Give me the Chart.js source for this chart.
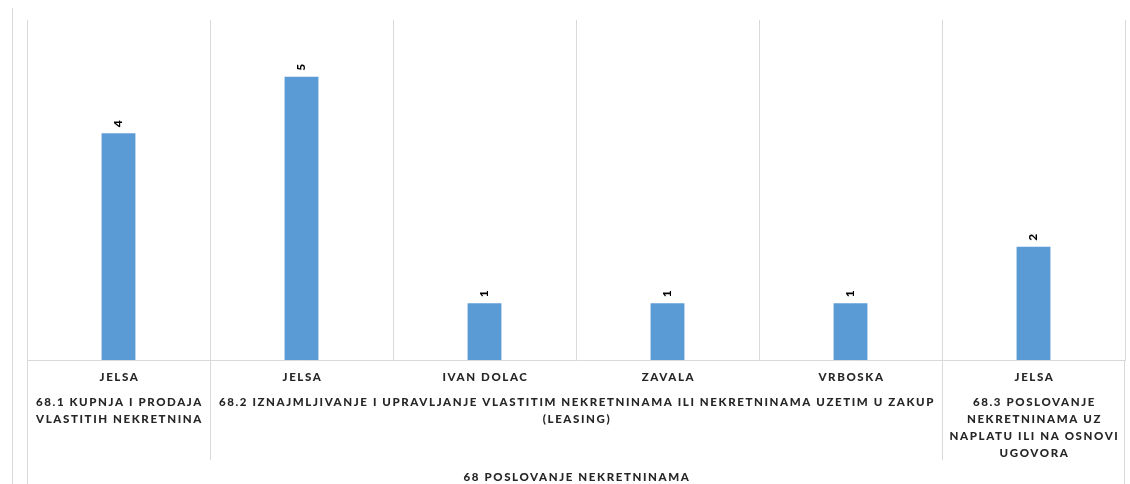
<!DOCTYPE html>
<html>
<head>
<meta charset="utf-8">
<script src="https://cdn.jsdelivr.net/npm/chart.js@4"></script>
<style>
  html, body { margin: 0; padding: 0; background: #fff; }
  #wrap { width: 1130px; height: 484px; position: relative; }
</style>
</head>
<body>
<div id="wrap"><canvas id="myChart"></canvas></div>
<script>
const categories = ['JELSA', 'JELSA', 'IVAN DOLAC', 'ZAVALA', 'VRBOSKA', 'JELSA'];
const values = [4, 5, 1, 1, 1, 2];
// second level of the axis: how many categories each group covers
const groupSpans = [1, 4, 1];
const groupLabels = [
  ['68.1 KUPNJA I PRODAJA', 'VLASTITIH NEKRETNINA'],
  ['68.2 IZNAJMLJIVANJE I UPRAVLJANJE VLASTITIM NEKRETNINAMA ILI NEKRETNINAMA UZETIM U ZAKUP', '(LEASING)'],
  ['68.3 POSLOVANJE', 'NEKRETNINAMA UZ', 'NAPLATU ILI NA OSNOVI', 'UGOVORA']
];
const topLabel = '68 POSLOVANJE NEKRETNINAMA';

const gridColor = '#d9d9d9';
const textColor = '#262626';
const labelFont = '900 11.5px Lato';

function spacedText(ctx, txt, x, y) {
  ctx.letterSpacing = '1.6px';
  // letter spacing adds a trailing gap, shift half of it back
  ctx.fillText(txt, x + 1, y);
}

const multiAxis = {
  id: 'multiAxis',
  afterDraw(chart) {
    const ctx = chart.ctx;
    const xs = chart.scales.x;
    const area = chart.chartArea;
    const step = xs.getPixelForValue(1) - xs.getPixelForValue(0);
    const h = chart.height;

    ctx.save();
    // outer frame line on the far left
    ctx.strokeStyle = gridColor;
    ctx.lineWidth = 1;
    ctx.beginPath();
    ctx.moveTo(12.5, 8);
    ctx.lineTo(12.5, h);
    ctx.stroke();

    // edges go all the way down
    ctx.beginPath();
    ctx.moveTo(Math.round(area.left) + 0.5, area.bottom);
    ctx.lineTo(Math.round(area.left) + 0.5, h);
    ctx.moveTo(Math.round(area.right) - 0.5, area.bottom);
    ctx.lineTo(Math.round(area.right) - 0.5, h);
    ctx.stroke();

    ctx.fillStyle = textColor;
    ctx.font = labelFont;
    ctx.textAlign = 'center';
    ctx.textBaseline = 'middle';

    categories.forEach((c, i) => {
      spacedText(ctx, c, xs.getPixelForValue(i), area.bottom + 17);
    });

    let start = 0;
    groupSpans.forEach((span, g) => {
      const x0 = xs.getPixelForValue(start) - step / 2;
      const x1 = xs.getPixelForValue(start + span - 1) + step / 2;
      groupLabels[g].forEach((line, k) => {
        spacedText(ctx, line, (x0 + x1) / 2, area.bottom + 42 + k * 17);
      });
      if (g < groupSpans.length - 1) {
        ctx.beginPath();
        ctx.moveTo(Math.round(x1) + 0.5, area.bottom);
        ctx.lineTo(Math.round(x1) + 0.5, area.bottom + 100);
        ctx.stroke();
      }
      start += span;
    });

    spacedText(ctx, topLabel, (area.left + area.right) / 2, area.bottom + 117);
    ctx.restore();
  }
};

const barLabels = {
  id: 'barLabels',
  afterDatasetsDraw(chart) {
    const ctx = chart.ctx;
    const meta = chart.getDatasetMeta(0);
    ctx.save();
    ctx.fillStyle = '#000';
    ctx.font = '900 12px Lato';
    ctx.textAlign = 'left';
    ctx.textBaseline = 'middle';
    meta.data.forEach((bar, i) => {
      ctx.save();
      ctx.translate(bar.x, bar.y - 6);
      ctx.rotate(-Math.PI / 2);
      ctx.fillText(String(values[i]), 0, 0);
      ctx.restore();
    });
    ctx.restore();
  }
};

const ctx = document.querySelector('#myChart').getContext('2d');

const myChart = new Chart(ctx, {
  type: 'bar',
  data: {
    labels: categories,
    datasets: [{
      data: values,
      backgroundColor: '#5b9bd5',
      borderWidth: 0,
      categoryPercentage: 1,
      barPercentage: 0.185,
    }]
  },
  options: {
    responsive: true,
    maintainAspectRatio: false,
    animation: false,
    layout: {
      padding: { left: 27, right: 5, top: 20, bottom: 124 }
    },
    plugins: {
      legend: { display: false },
      tooltip: { enabled: false }
    },
    scales: {
      x: {
        grid: {
          display: true,
          offset: true,
          color: gridColor,
          drawTicks: false,
        },
        border: { display: true, color: gridColor },
        ticks: { display: false },
      },
      y: {
        display: false,
        min: 0,
        max: 6,
      }
    }
  },
  plugins: [multiAxis, barLabels]
});
</script>
</body>
</html>
